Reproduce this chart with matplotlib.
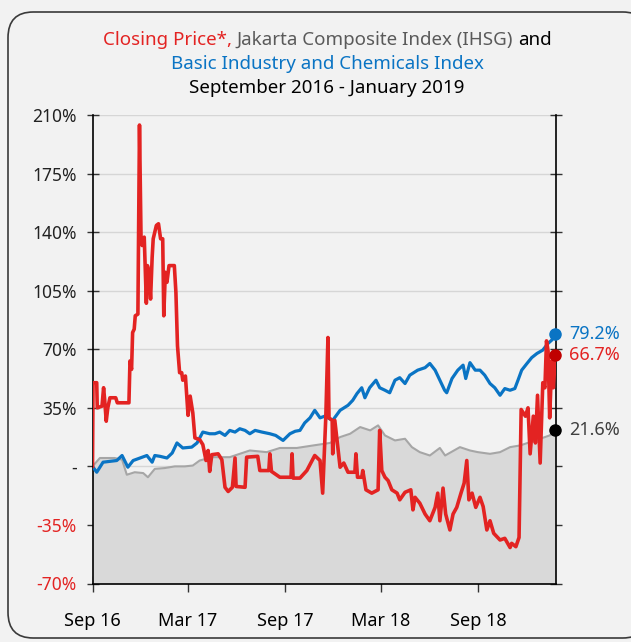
import numpy as np
import pandas as pd
import matplotlib
matplotlib.use("Agg")
import matplotlib.pyplot as plt
import matplotlib.dates as mdates
from matplotlib.patches import FancyBboxPatch
from matplotlib.offsetbox import TextArea, HPacker, VPacker, AnnotationBbox

# closing price of the stock, % change since Sep 2016
stock_dates = [
    "2016-09-01", "2016-09-02", "2016-09-09", "2016-09-10", "2016-09-19", "2016-09-22",
    "2016-09-24", "2016-09-27", "2016-09-30", "2016-10-04", "2016-10-15", "2016-10-18",
    "2016-11-09", "2016-11-11", "2016-11-14", "2016-11-16", "2016-11-19", "2016-11-21",
    "2016-11-26", "2016-11-29", "2016-12-02", "2016-12-04", "2016-12-08", "2016-12-12",
    "2016-12-14", "2016-12-17", "2016-12-20", "2016-12-23", "2016-12-25", "2016-12-28",
    "2016-12-31", "2017-01-04", "2017-01-08", "2017-01-12", "2017-01-14", "2017-01-17",
    "2017-01-20", "2017-01-24", "2017-02-03", "2017-02-06", "2017-02-09", "2017-02-13",
    "2017-02-17", "2017-02-19", "2017-02-24", "2017-03-01", "2017-03-05", "2017-03-10",
    "2017-03-14", "2017-03-23", "2017-03-29", "2017-04-04", "2017-04-08", "2017-04-11",
    "2017-04-15", "2017-04-27", "2017-05-04", "2017-05-10", "2017-05-16", "2017-05-24",
    "2017-05-29", "2017-05-31", "2017-06-17", "2017-06-20", "2017-07-11", "2017-07-15",
    "2017-08-01", "2017-08-03", "2017-08-06", "2017-08-22", "2017-09-12", "2017-09-14",
    "2017-09-16", "2017-09-29", "2017-10-12", "2017-10-27", "2017-11-06", "2017-11-11",
    "2017-11-17", "2017-11-21", "2017-11-23", "2017-11-29", "2017-11-30", "2017-12-04",
    "2017-12-10", "2017-12-14", "2017-12-21", "2017-12-29", "2018-01-11", "2018-01-13",
    "2018-01-16", "2018-01-24", "2018-01-26", "2018-02-01", "2018-02-12", "2018-02-24",
    "2018-02-27", "2018-03-03", "2018-03-09", "2018-03-15", "2018-03-22", "2018-04-01",
    "2018-04-06", "2018-04-16", "2018-04-27", "2018-05-01", "2018-05-05", "2018-05-14",
    "2018-05-24", "2018-06-02", "2018-06-12", "2018-06-17", "2018-06-21", "2018-06-27",
    "2018-07-02", "2018-07-10", "2018-07-16", "2018-07-23", "2018-07-31", "2018-08-06",
    "2018-08-11", "2018-08-15", "2018-08-21", "2018-08-28", "2018-09-05", "2018-09-11",
    "2018-09-18", "2018-09-24", "2018-10-01", "2018-10-13", "2018-10-22", "2018-11-01",
    "2018-11-04", "2018-11-12", "2018-11-18", "2018-11-22", "2018-11-30", "2018-12-05",
    "2018-12-09", "2018-12-15", "2018-12-19", "2018-12-23", "2018-12-28", "2019-01-02",
    "2019-01-06", "2019-01-09", "2019-01-12", "2019-01-15", "2019-01-19", "2019-01-22",
    "2019-01-26",
]
stock_pct = [
    0, 50, 50, 35, 36, 47,
    40, 27, 35, 41, 41, 38,
    38, 63, 58, 80, 82, 90,
    91, 204, 135, 132, 137, 97.5,
    120, 116, 100, 125, 136, 140,
    144, 145, 136, 136, 90, 116,
    110, 120, 120, 104, 72, 56,
    56, 51.5, 54, 30.5, 42, 32,
    17, 16, 13, 3.5, 9.5, -3,
    7, 7.5, 4, -12.5, -15, -12.5,
    5, -12, -12.5, 5.5, 6, -2.5,
    -2.5, 7.5, -3, -6.5, -6.5, 7.5,
    -7, -7, -2.5, 6.5, 3.5, -16,
    30, 77, 29, 27.5, 7.5, 27.5,
    11, -0.5, 2, -3.5, -3.5, 7.5,
    -6.5, -6.5, -2.5, -14, -16, -14,
    21.5, -2.5, -6.5, -8.5, -14, -16,
    -20, -15.5, -14, -26, -18.5, -22,
    -28.5, -32.5, -24.5, -16, -32.5, -13,
    -28.5, -38, -28.5, -24.5, -16, -10,
    3.5, -20, -16, -24.5, -18.5, -24,
    -38, -32.5, -40, -44, -43, -48.5,
    -46, -48, -42.5, 34, 30, 35,
    7.5, 30, 14, 42.5, 2, 50,
    47, 75, 69, 29, 63, 47,
    66.7,
]

# Jakarta Composite Index (IHSG)
ihsg_dates = [
    "2016-09-01", "2016-09-15", "2016-10-13", "2016-10-27", "2016-11-05", "2016-11-20",
    "2016-12-06", "2016-12-15", "2016-12-28", "2017-01-16", "2017-02-04", "2017-02-23",
    "2017-03-10", "2017-03-23", "2017-04-16", "2017-05-19", "2017-06-26", "2017-07-28",
    "2017-08-22", "2017-09-23", "2017-10-24", "2017-11-25", "2017-12-14", "2018-01-02",
    "2018-01-21", "2018-02-09", "2018-02-24", "2018-03-09", "2018-03-28", "2018-04-16",
    "2018-04-29", "2018-05-14", "2018-06-02", "2018-06-21", "2018-07-01", "2018-07-29",
    "2018-08-17", "2018-09-01", "2018-09-24", "2018-10-13", "2018-11-01", "2018-11-20",
    "2018-12-09", "2018-12-28", "2019-01-15", "2019-01-26",
]
ihsg_pct = [
    0, 5, 5, 4, -5, -3.5,
    -4, -6.5, -1.5, -1, 0, 0,
    0.5, 3.5, 5.5, 5.5, 9.5, 8.5,
    11, 11, 12.5, 14, 17.5, 19.5,
    23.5, 21.5, 24.5, 18.5, 15.5, 16.5,
    11.5, 8.5, 6.5, 11, 6.5, 11.5,
    9.5, 8.5, 7.5, 8.5, 11.5, 12.5,
    14.5, 16.5, 18.5, 21.6,
]

# Basic Industry and Chemicals Index
sector_dates = [
    "2016-09-01", "2016-09-09", "2016-09-21", "2016-10-04", "2016-10-17", "2016-10-27",
    "2016-11-07", "2016-11-17", "2016-11-30", "2016-12-13", "2016-12-23", "2016-12-28",
    "2017-01-07", "2017-01-20", "2017-01-30", "2017-02-08", "2017-02-19", "2017-03-08",
    "2017-03-18", "2017-03-29", "2017-04-11", "2017-04-21", "2017-04-30", "2017-05-10",
    "2017-05-19", "2017-05-29", "2017-06-07", "2017-06-17", "2017-06-26", "2017-07-06",
    "2017-07-19", "2017-08-03", "2017-08-14", "2017-08-28", "2017-09-10", "2017-09-20",
    "2017-09-29", "2017-10-08", "2017-10-18", "2017-10-27", "2017-11-06", "2017-11-15",
    "2017-11-30", "2017-12-14", "2017-12-29", "2018-01-07", "2018-01-15", "2018-01-24",
    "2018-01-30", "2018-02-08", "2018-02-20", "2018-02-27", "2018-03-09", "2018-03-18",
    "2018-03-28", "2018-04-06", "2018-04-16", "2018-04-25", "2018-05-10", "2018-05-24",
    "2018-06-02", "2018-06-12", "2018-06-21", "2018-06-30", "2018-07-04", "2018-07-14",
    "2018-07-25", "2018-08-04", "2018-08-09", "2018-08-17", "2018-08-27", "2018-09-05",
    "2018-09-14", "2018-09-24", "2018-10-03", "2018-10-13", "2018-10-22", "2018-11-01",
    "2018-11-10", "2018-11-16", "2018-11-23", "2018-12-03", "2018-12-12", "2018-12-22",
    "2019-01-02", "2019-01-12", "2019-01-19", "2019-01-26",
]
sector_pct = [
    0, -3.5, 2.5, 3, 3.5, 6.5,
    -0.5, 3.5, 5, 6.5, 2.5, 6.5,
    6, 5, 8, 14, 11, 11.5,
    14, 20.5, 19.5, 19.5, 20.5, 18.5,
    21.5, 20.5, 22.5, 21.5, 19.5, 21.5,
    20.5, 19.5, 18.5, 15.5, 19.5, 21,
    21.5, 26, 29, 33.5, 29, 30,
    27.5, 33.5, 36.5, 39.5, 43.5, 47,
    41, 47, 51.5, 47, 45.5, 44,
    51.5, 53, 49.5, 54.5, 57.5, 59,
    61.5, 57.5, 51.5, 45.5, 44, 52.5,
    57.5, 60.5, 52.5, 62, 57.5, 57.5,
    54.5, 49.5, 47, 42.5, 46.5, 45.5,
    46.5, 51.5, 57.5, 61.5, 65, 67.5,
    69.5, 73.5, 75.5, 79.2,
]

yticks = [-70, -35, 0, 35, 70, 105, 140, 175, 210]
ytick_labels = ["-70%", "-35%", "-", "35%", "70%", "105%", "140%", "175%", "210%"]
xticks = ["2016-09-01", "2017-03-01", "2017-09-01", "2018-03-01", "2018-09-01"]

RED = "#e32322"
BLUE = "#0a74c4"
GREY_TXT = "#5a5a5a"
BG = "#f2f2f2"

plt.rcParams['font.family'] = ['Noto Sans', 'DejaVu Sans']

sd = pd.to_datetime(stock_dates)
idt = pd.to_datetime(ihsg_dates)
bd = pd.to_datetime(sector_dates)

fig = plt.figure(figsize=(6.31, 6.42), dpi=100, facecolor=BG)
fig.patches.append(FancyBboxPatch((8 / 631, 4 / 642), 640 / 631, 626 / 642,
                                  boxstyle="round,pad=0,rounding_size=0.04",
                                  transform=fig.transFigure, facecolor=BG,
                                  edgecolor="#3a3a3a", linewidth=1.2, zorder=-1))

ax = fig.add_axes([92.5 / 631, 1 - 583.5 / 642, 463.5 / 631, 468.5 / 642])
ax.set_facecolor(BG)

ax.fill_between(idt, ihsg_pct, -70, color="#d9d9d9", lw=0, zorder=1)
ax.plot(idt, ihsg_pct, color="#a6a6a6", lw=1.5, zorder=2)
ax.plot(bd, sector_pct, color=BLUE, lw=2.3, zorder=3)
ax.plot(sd, stock_pct, color=RED, lw=2.6, zorder=4)

# end markers and labels
ends = [(bd[-1], sector_pct[-1], BLUE, BLUE, "79.2%"),
        (sd[-1], stock_pct[-1], "#c00000", RED, "66.7%"),
        (idt[-1], ihsg_pct[-1], "black", "#404040", "21.6%")]
for d, v, mc, tc, lab in ends:
    ax.plot([d], [v], 'o', color=mc, ms=8, zorder=6, clip_on=False)
    ax.annotate(lab, xy=(d, v), xytext=(14, 0), textcoords="offset pixels",
                color=tc, fontsize=13, va="center", ha="left", annotation_clip=False)

ax.set_ylim(-70, 210)
ax.set_xlim(pd.Timestamp("2016-09-01"), pd.Timestamp("2019-01-27"))
ax.set_yticks(yticks)
ax.set_yticklabels(ytick_labels)
for lbl, v in zip(ax.get_yticklabels(), yticks):
    lbl.set_color(RED if v < 0 else "#222222")
ax.set_xticks(pd.to_datetime(xticks))
ax.xaxis.set_major_formatter(mdates.DateFormatter("%b %y"))

ax.grid(axis="y", color="#d6d6d6", lw=1)
ax.set_axisbelow(True)
ax.tick_params(axis="y", direction="inout", length=9, width=1, color="#333333",
               labelsize=12.5, pad=7, right=True)
ax.tick_params(axis="x", direction="inout", length=11, width=1, color="#333333",
               labelsize=13, pad=15)
ax.spines["top"].set_visible(False)
for s in ["left", "bottom", "right"]:
    ax.spines[s].set_color("black")
    ax.spines[s].set_linewidth(1.2)

# three line title, first line in three colours
fs = 13.5
line1 = HPacker(children=[TextArea("Closing Price*, ", textprops=dict(color=RED, fontsize=fs)),
                          TextArea("Jakarta Composite Index (IHSG) ", textprops=dict(color=GREY_TXT, fontsize=fs)),
                          TextArea("and", textprops=dict(color="black", fontsize=fs))],
                align="baseline", pad=0, sep=0)
line2 = TextArea("Basic Industry and Chemicals Index", textprops=dict(color=BLUE, fontsize=fs))
line3 = TextArea("September 2016 - January 2019", textprops=dict(color="black", fontsize=fs))
title = VPacker(children=[line1, line2, line3], align="center", pad=0, sep=4)
ab = AnnotationBbox(title, (327 / 631, 1 - 64 / 642), xycoords="figure fraction",
                    frameon=False, box_alignment=(0.5, 0.5))
fig.add_artist(ab)

fig.savefig("out.png", dpi=100, facecolor=BG)
